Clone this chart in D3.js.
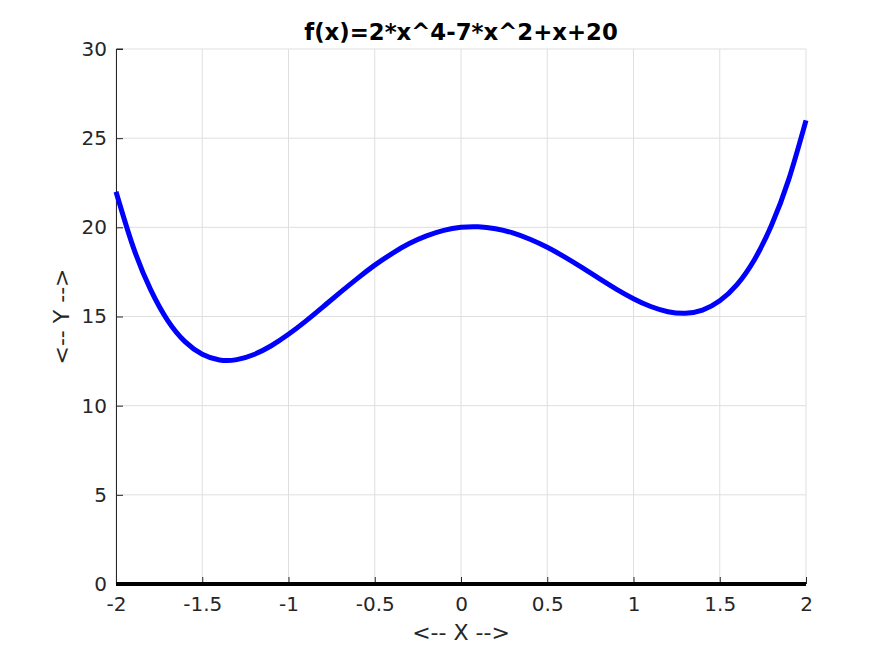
<!DOCTYPE html>
<html lang="en">
<head>
    <meta charset="UTF-8">
    <title>f(x)=2*x^4-7*x^2+x+20</title>
    <script src="https://d3js.org/d3.v7.min.js"></script>
    <style>
        body { margin: 0; background: #fff; }
        svg { display: block; font-family: "DejaVu Sans", sans-serif; }
    </style>
</head>
<body>

    <svg width="891" height="656"></svg>

    <script>
        // points
        const xValues = [-2, -1.9, -1.8, -1.7, -1.6, -1.5, -1.4, -1.3, -1.2, -1.1, -1,
            -0.9, -0.8, -0.7, -0.6, -0.5, -0.4, -0.3, -0.2, -0.1, 0,
            0.1, 0.2, 0.3, 0.4, 0.5, 0.6, 0.7, 0.8, 0.9, 1,
            1.1, 1.2, 1.3, 1.4, 1.5, 1.6, 1.7, 1.8, 1.9, 2];
        const yValues = [22, 18.89, 16.52, 14.77, 13.59, 12.88, 12.56, 12.58, 12.87, 13.36, 14,
            14.74, 15.54, 16.35, 17.14, 17.88, 18.53, 19.09, 19.52, 19.83, 20,
            20.03, 19.92, 19.69, 19.33, 18.88, 18.34, 17.75, 17.14, 16.54, 16,
            15.56, 15.27, 15.18, 15.36, 15.88, 16.79, 18.17, 20.12, 22.69, 26];
        const zeroLine = [[-2, 0], [2, 0]];

        const xTicks = [-2, -1.5, -1, -0.5, 0, 0.5, 1, 1.5, 2];
        const yTicks = [0, 5, 10, 15, 20, 25, 30];

        const width = 891, height = 656;
        const margin = { top: 49, right: 85, bottom: 72, left: 116 };

        const svg = d3.select("svg");

        const x = d3.scaleLinear()
            .domain([-2, 2])
            .range([margin.left, width - margin.right]);

        const y = d3.scaleLinear()
            .domain([0, 30])
            .range([height - margin.bottom, margin.top]);

        // plain hyphen for negatives, like the original
        const fmt = d => String(d);

        // grid lines
        svg.append("g")
            .selectAll("line")
            .data(xTicks)
            .join("line")
            .attr("x1", d => x(d)).attr("x2", d => x(d))
            .attr("y1", y(0)).attr("y2", y(30))
            .attr("stroke", "#dfdfdf");

        svg.append("g")
            .selectAll("line")
            .data(yTicks)
            .join("line")
            .attr("x1", x(-2)).attr("x2", x(2))
            .attr("y1", d => y(d)).attr("y2", d => y(d))
            .attr("stroke", "#dfdfdf");

        // axes, ticks pointing inward
        const xAxis = svg.append("g")
            .attr("transform", `translate(0,${y(0)})`)
            .call(d3.axisBottom(x).tickValues(xTicks).tickSize(-7).tickPadding(13).tickFormat(fmt));

        const yAxis = svg.append("g")
            .attr("transform", `translate(${x(-2)},0)`)
            .call(d3.axisLeft(y).tickValues(yTicks).tickSize(-7).tickPadding(9).tickFormat(fmt));

        [xAxis, yAxis].forEach(a => {
            a.select(".domain").attr("stroke", "#262626");
            a.selectAll(".tick line").attr("stroke", "#262626");
            a.selectAll("text")
                .attr("fill", "#262626")
                .attr("font-family", "DejaVu Sans, sans-serif")
                .attr("font-size", 20);
        });
        yAxis.select(".domain").attr("d", `M0.5,${y(0)}V${y(30)}H7`);
        xAxis.select(".domain").remove();

        // y = 0 line
        svg.append("path")
            .datum(zeroLine)
            .attr("fill", "none")
            .attr("stroke", "#000")
            .attr("stroke-width", 4)
            .attr("d", d3.line().x(d => x(d[0])).y(d => y(d[1])));

        // the function curve
        const pts = xValues.map((v, i) => [v, yValues[i]]);
        svg.append("path")
            .datum(pts)
            .attr("fill", "none")
            .attr("stroke", "#0000ff")
            .attr("stroke-width", 5)
            .attr("d", d3.line().curve(d3.curveNatural).x(d => x(d[0])).y(d => y(d[1])));

        // title and labels
        svg.append("text")
            .attr("x", (x(-2) + x(2)) / 2)
            .attr("y", 40)
            .attr("text-anchor", "middle")
            .attr("font-size", 22.8)
            .attr("font-weight", "bold")
            .attr("fill", "#000")
            .text("f(x)=2*x^4-7*x^2+x+20");

        svg.append("text")
            .attr("x", (x(-2) + x(2)) / 2)
            .attr("y", 640)
            .attr("text-anchor", "middle")
            .attr("font-size", 22)
            .attr("fill", "#262626")
            .text("<-- X -->");

        svg.append("text")
            .attr("transform", `translate(69,${(y(0) + y(30)) / 2}) rotate(-90)`)
            .attr("text-anchor", "middle")
            .attr("font-size", 22)
            .attr("fill", "#262626")
            .text("<-- Y -->");
    </script>

</body>
</html>
